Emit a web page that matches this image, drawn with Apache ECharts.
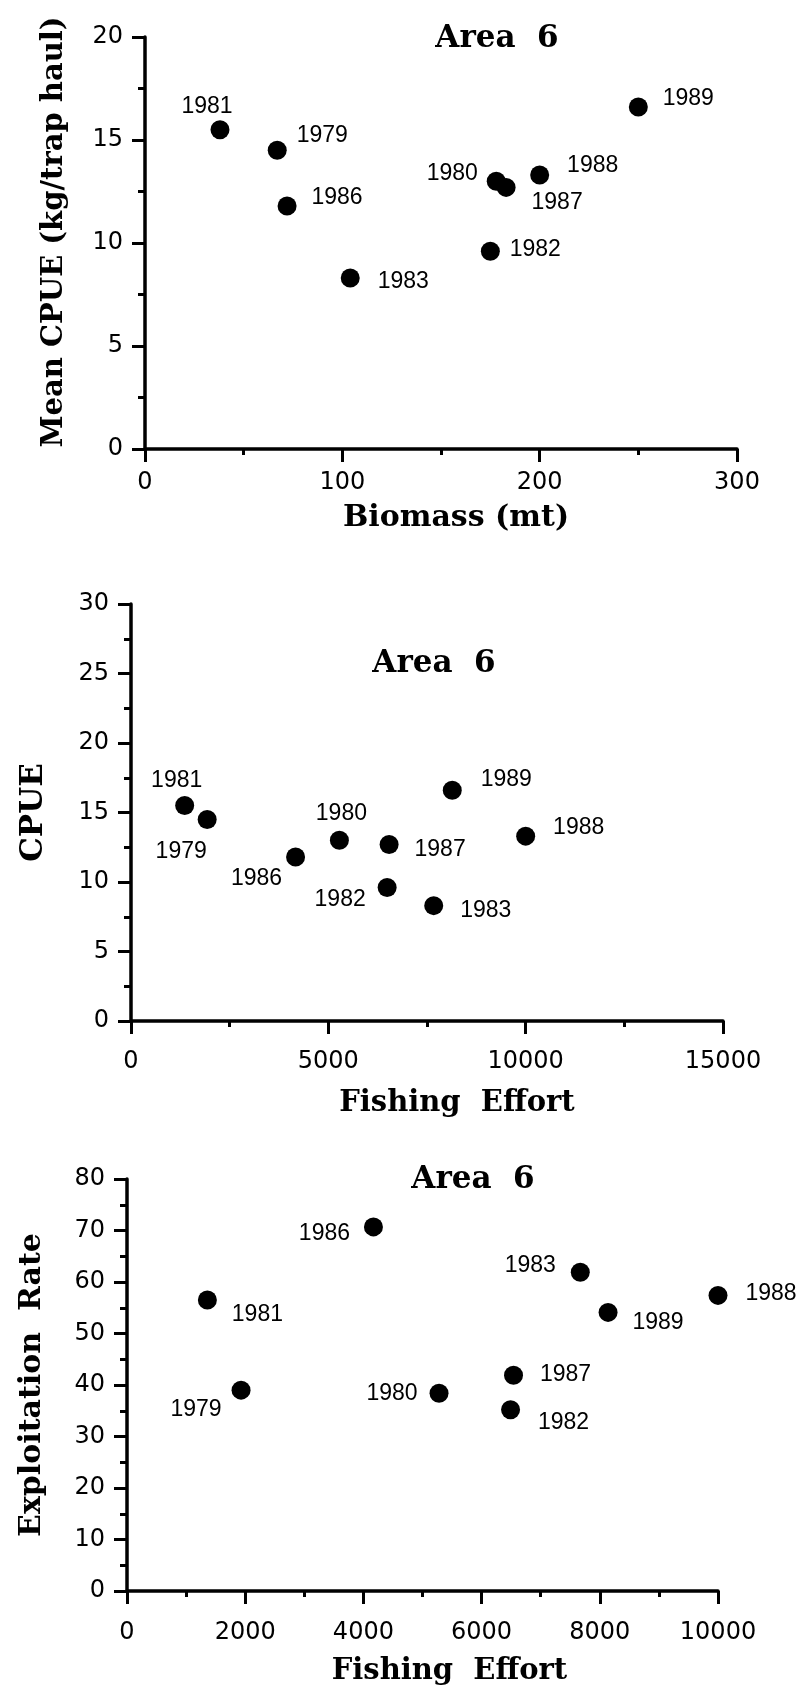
<!DOCTYPE html>
<html>
<head>
<meta charset="utf-8">
<script src="https://cdn.jsdelivr.net/npm/echarts@6/dist/echarts.min.js"></script>
<style>
  html, body { margin: 0; padding: 0; background: #fff; }
  #chart { width: 803px; height: 1691px; }
</style>
</head>
<body>
<div id="chart"></div>
<script>
// Area 6 survey years and their measured quantities
const years        = [1979, 1980, 1981, 1982, 1983, 1986, 1987, 1988, 1989];
const biomass      = [67, 178, 38, 175, 104, 72, 183, 200, 250];           // mt
const cpue         = [14.5, 13.0, 15.5, 9.6, 8.3, 11.8, 12.7, 13.3, 16.6];  // kg per trap haul
const effort       = [1930, 5280, 1360, 6490, 7670, 4170, 6540, 10000, 8140];
const exploitation = [39.0, 38.4, 56.5, 35.2, 61.9, 70.7, 41.9, 57.4, 54.1];

// Where each year label sits relative to its dot, per panel
const offsetsBiomass = {
  1979: [45, -15], 1980: [-44, -8], 1981: [-13, -23], 1982: [45, -2], 1983: [53, 4],
  1986: [50, -8], 1987: [51, 15], 1988: [53, -9], 1989: [50, -8]
};
const offsetsEffortCpue = {
  1979: [-26, 32], 1980: [2, -27], 1981: [-8, -25], 1982: [-47, 12], 1983: [52, 5],
  1986: [-39, 22], 1987: [51, 5], 1988: [53, -8], 1989: [54, -11]
};
const offsetsEffortExpl = {
  1979: [-45, 20], 1980: [-47, 0], 1981: [50, 15], 1982: [53, 13], 1983: [-50, -7],
  1986: [-49, 7], 1987: [52, -1], 1988: [53, -2], 1989: [50, 10]
};

const INK = '#000';
const SERIF = 'DejaVu Serif';
const SANS_TICK = 'DejaVu Sans';
const SANS_LABEL = 'Liberation Sans';

function points(xs, ys, offsets) {
  return years.map((yr, i) => ({
    name: String(yr),
    value: [xs[i], ys[i]],
    label: { offset: offsets[yr] }
  }));
}

function xAxis(idx, max, interval, name, labelMargin, nameGap, shift, nameSize) {
  return {
    gridIndex: idx, type: 'value', min: 0, max: max, interval: interval,
    name: name, nameLocation: 'middle', nameGap: nameGap,
    nameTextStyle: { fontFamily: SERIF, fontWeight: 'bold', fontSize: nameSize, color: INK, padding: [0, 0, 0, shift * 2] },
    axisLine: { show: true, onZero: false, lineStyle: { color: INK, width: 3.5 } },
    axisTick: { show: true, length: 13, lineStyle: { color: INK, width: 3 } },
    minorTick: { show: true, splitNumber: 2, length: 6, lineStyle: { color: INK, width: 3 } },
    axisLabel: { margin: labelMargin, fontFamily: SANS_TICK, fontSize: 24, color: INK, formatter: v => String(v) },
    splitLine: { show: false }
  };
}

function yAxis(idx, max, interval, name, nameGap, shift, nameSize) {
  return {
    gridIndex: idx, type: 'value', min: 0, max: max, interval: interval,
    name: name, nameLocation: 'middle', nameGap: nameGap, nameRotate: 90,
    nameTextStyle: { fontFamily: SERIF, fontWeight: 'bold', fontSize: nameSize, color: INK, padding: [0, 0, 0, shift * 2] },
    axisLine: { show: true, onZero: false, lineStyle: { color: INK, width: 3.5 } },
    axisTick: { show: true, length: 13, lineStyle: { color: INK, width: 3 } },
    minorTick: { show: true, splitNumber: 2, length: 7, lineStyle: { color: INK, width: 3 } },
    axisLabel: { margin: 22, fontFamily: SANS_TICK, fontSize: 24, color: INK, formatter: v => String(v) },
    splitLine: { show: false }
  };
}

function scatter(idx, data) {
  return {
    type: 'scatter', xAxisIndex: idx, yAxisIndex: idx,
    symbol: 'circle', symbolSize: 19,
    itemStyle: { color: INK, opacity: 1 },
    label: {
      show: true, position: 'inside', formatter: '{b}',
      fontFamily: SANS_LABEL, fontSize: 23, color: INK, opacity: 1
    },
    emphasis: { disabled: true },
    data: data
  };
}

function heading(x, y) {
  return {
    type: 'text', x: x, y: y,
    style: {
      text: 'Area  6', fill: INK, font: 'bold 31px "' + SERIF + '"',
      align: 'center', verticalAlign: 'middle'
    }
  };
}

const chart = echarts.init(document.getElementById('chart'), null, { renderer: 'canvas' });
chart.setOption({
  animation: false,
  backgroundColor: '#fff',
  grid: [
    { left: 145, top: 37, width: 592, height: 412, containLabel: false, outerBoundsMode: 'none' },
    { left: 131, top: 604, width: 592, height: 417, containLabel: false, outerBoundsMode: 'none' },
    { left: 127, top: 1179, width: 591, height: 412, containLabel: false, outerBoundsMode: 'none' }
  ],
  xAxis: [
    xAxis(0, 300, 100, 'Biomass (mt)', 22, 54, 15, 30),
    xAxis(1, 15000, 5000, 'Fishing  Effort', 29, 68, 30, 29),
    xAxis(2, 10000, 2000, 'Fishing  Effort', 30, 66, 27, 29)
  ],
  yAxis: [
    yAxis(0, 20, 5, 'Mean CPUE (kg/trap haul)', 76, 11, 29),
    yAxis(1, 30, 5, 'CPUE', 82, 0, 31),
    yAxis(2, 80, 10, 'Exploitation  Rate', 80, 0, 30)
  ],
  series: [
    scatter(0, points(biomass, cpue, offsetsBiomass)),
    scatter(1, points(effort, cpue, offsetsEffortCpue)),
    scatter(2, points(effort, exploitation, offsetsEffortExpl))
  ],
  graphic: [
    heading(497, 39),
    heading(434, 664),
    heading(473, 1180)
  ]
});
</script>
</body>
</html>
